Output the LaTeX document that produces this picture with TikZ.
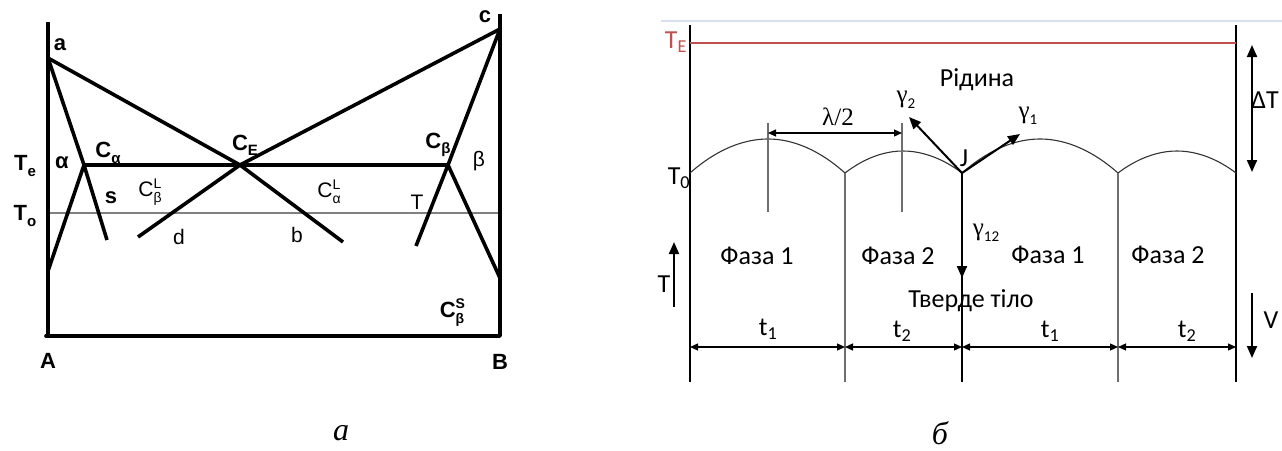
\documentclass[tikz,border=0pt]{standalone}
\usepackage{fontspec}
\setmainfont{Liberation Serif}
\newfontfamily\lsans{Liberation Sans}
\newfontfamily\calf{Carlito}
\usetikzlibrary{arrows.meta}
\definecolor{redline}{RGB}{192,80,77}
\definecolor{lav}{RGB}{218,222,242}
\definecolor{bord}{RGB}{110,110,110}
\newcommand{\supsub}[2]{\rlap{\raisebox{0.75ex}{\fontsize{14}{14}\selectfont #1}}\raisebox{-0.55ex}{\fontsize{14}{14}\selectfont #2}}
\newcommand{\lsub}[1]{\raisebox{-0.45ex}{\fontsize{15}{15}\selectfont #1}}
\newcommand{\gsub}[1]{\raisebox{-0.5ex}{\calf\fontsize{15}{15}\selectfont #1}}
\begin{document}
\begin{tikzpicture}[x=1pt,y=-1pt,
  thk/.style={line width=3.6pt, line join=round},
  lbl/.style={font=\lsans\bfseries\fontsize{22}{22}\selectfont, inner sep=0pt},
  lbr/.style={font=\lsans\fontsize{21}{21}\selectfont, inner sep=0pt},
  rl/.style={font=\calf\fontsize{26}{26}\selectfont, inner sep=0pt},
  gr/.style={font=\fontsize{25}{25}\selectfont, inner sep=0pt},
  dim/.style={line width=1.2pt, {Triangle[length=8pt,width=7pt]}-{Triangle[length=8pt,width=7pt]}},
  vec/.style={line width=2pt, -{Triangle[length=12pt,width=10pt]}},
  dbl/.style={line width=2pt, {Triangle[length=12pt,width=10pt]}-{Triangle[length=12pt,width=10pt]}},
  captxt/.style={font=\fontsize{32}{32}\selectfont\itshape, inner sep=0pt},
]
\useasboundingbox (0,0) rectangle (1282,450);
% ---------------- left diagram ----------------
\coordinate (A0) at (48,22);
\coordinate (Abot) at (46,336);
\coordinate (Bbot) at (500,336);
\coordinate (B0) at (500,14);
\coordinate (pa) at (48,58);
\coordinate (pc) at (500,29);
\coordinate (pCa) at (84,165);
\coordinate (pCE) at (240,165);
\coordinate (pCb) at (448,165);
\coordinate (ps) at (107,240);
\coordinate (pd) at (138,237);
\coordinate (pb) at (343,242);
\coordinate (pT) at (416,246);
\coordinate (psl) at (48,271);
\coordinate (psr) at (500,278);
\coordinate (T0l) at (48,213);
\coordinate (T0r) at (500,213);
\draw[gray, line width=2.2pt] (T0l) -- (T0r);
\draw[thk] (A0) -- (48,336) -- (Abot) -- (Bbot) -- (B0);
\draw[thk] (pa) -- (pCE) -- (pb);
\draw[thk] (pc) -- (pCE) -- (pd);
\draw[thk] (pa) -- (pCa) -- (ps);
\draw[thk] (pc) -- (pCb) -- (pT);
\draw[thk] (pCa) -- (pCb);
\draw[thk] (psl) -- (pCa);
\draw[thk] (psr) -- (pCb);
\node[lbl] (la) at (60,45) {a};
\node[lbl] (lc) at (485,17) {c};
\node[lbl] (lTe) at (25,166) {T\lsub{e}};
\node[lbl] (lal) at (62,163) {α};
\node[lbl] (lCa) at (108,153) {C\lsub{α}};
\node[lbl] (lCE) at (245,145) {C\lsub{E}};
\node[lbr] (lCbL) at (150,192) {C\supsub{L}{β}};
\node[lbl] (ls) at (111,198) {s};
\node[lbl] (lTo) at (25,216) {T\lsub{o}};
\node[lbr] (ld) at (179,237) {d};
\node[lbr] (lb) at (297,235) {b};
\node[lbr] (lCaL) at (329,192) {C\supsub{L}{α}};
\node[lbr] (lT) at (417,202) {T};
\node[lbl] (lCb) at (438,145) {C\lsub{β}};
\node[lbr] (lbe) at (479,161) {β};
\node[lbl] (lCbS) at (452,313) {C\supsub{S}{β}};
\node[lbl] (lA) at (48,361) {A};
\node[lbl] (lB) at (500,362) {B};
\node[captxt] (capa) at (341,433) {а};
% ---------------- right diagram ----------------
\coordinate (lavL) at (661,21);
\coordinate (lavR) at (1282,21);
\coordinate (Lt) at (690,25);
\coordinate (Lb) at (690,382);
\coordinate (Rt) at (1236,25);
\coordinate (Rb) at (1236,382);
\coordinate (TEl) at (690,43);
\coordinate (TEr) at (1236,43);
\coordinate (c0) at (690,173);
\coordinate (c1) at (845,173);
\coordinate (J) at (962,173);
\coordinate (c3) at (1118,173);
\coordinate (c4) at (1236,173);
\draw[lav, line width=1.5pt] (lavL) -- (lavR);
\draw[line width=1.6pt] (Lt) -- (Lb);
\draw[line width=1.6pt] (Rt) -- (Rb);
\draw[redline, line width=2.2pt] (TEl) -- (TEr);
\draw[line width=1.1pt, black!80] (c0) parabola bend (768,139) (c1)
  parabola bend (903,151) (J) parabola bend (1040,139) (c3)
  parabola bend (1177,151) (c4);
\draw[bord, line width=1.3pt] (c1) -- (845,382);
\draw[bord, line width=1.3pt] (c3) -- (1118,382);
\draw[line width=1.6pt] (J) -- (962,382);
\coordinate (l1t) at (768,123); \coordinate (l1b) at (768,212);
\coordinate (l2t) at (902,123); \coordinate (l2b) at (902,212);
\draw[bord, line width=1.3pt] (l1t) -- (l1b);
\draw[bord, line width=1.3pt] (l2t) -- (l2b);
\draw[dim] (768,133) -- (902,133);
\node[gr] (lam) at (838,117) {λ/2};
\coordinate (g2) at (909,117);
\coordinate (g1) at (1020,134);
\coordinate (g12) at (962,278);
\draw[vec] (J) -- (g2);
\draw[vec] (J) -- (g1);
\draw[vec] (J) -- (g12);
\node[gr] (lg2) at (906,100) {γ\gsub{2}};
\node[gr] (lg1) at (1028,116) {γ\gsub{1}};
\node[gr] (lg12) at (986,233) {γ\gsub{12}};
\node[rl] (lJ) at (964,158) {J};
\node[rl, redline] (lTE) at (676,42) {T\textsubscript{E}};
\node[rl] (lT0) at (679,178) {T\textsubscript{0}};
\node[rl] (liq) at (977,80) {Рідина};
\node[rl] (f1) at (757,256) {Фаза 1};
\node[rl] (f2) at (898,256) {Фаза 2};
\node[rl] (f3) at (1048,255) {Фаза 1};
\node[rl] (f4) at (1168,255) {Фаза 2};
\node[rl] (solid) at (971,301) {Тверде тіло};
% arrows at sides
\coordinate (dTt) at (1252,45); \coordinate (dTb) at (1252,172);
\draw[dbl] (dTt) -- (dTb);
\node[rl] (ldT) at (1265,100) {ΔT};
\coordinate (Tb) at (674,307); \coordinate (Tt) at (674,242);
\draw[vec] (Tb) -- (Tt);
\node[rl] (lTT) at (664,284) {T};
\coordinate (Vt) at (1252,293); \coordinate (Vb) at (1252,358);
\draw[vec] (Vt) -- (Vb);
\node[rl] (lV) at (1271,320) {V};
% bottom dimensions
\draw[dim] (690,347) -- (845,347);
\draw[dim] (845,347) -- (962,347);
\draw[dim] (962,347) -- (1118,347);
\draw[dim] (1118,347) -- (1236,347);
\node[rl] (t1a) at (768,329) {t\textsubscript{1}};
\node[rl] (t2a) at (902,331) {t\textsubscript{2}};
\node[rl] (t1b) at (1050,331) {t\textsubscript{1}};
\node[rl] (t2b) at (1187,331) {t\textsubscript{2}};
\node[captxt] (capb) at (940,433) {б};
\end{tikzpicture}
\end{document}
